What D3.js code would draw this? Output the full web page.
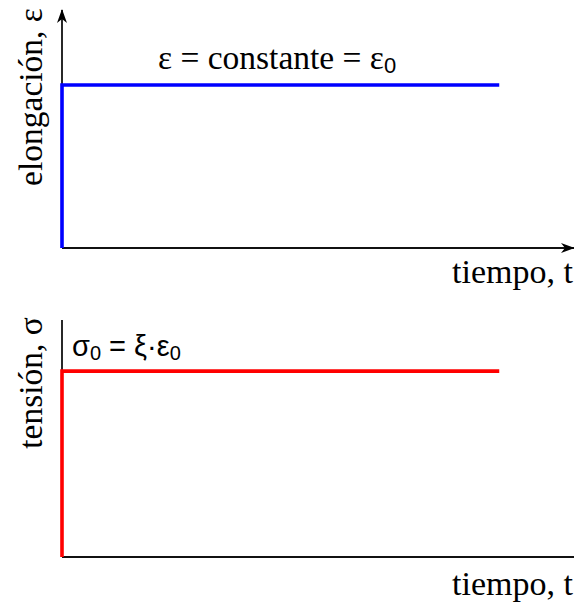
<!DOCTYPE html>
<html>
<head>
<meta charset="utf-8">
<script src="https://cdn.jsdelivr.net/npm/d3@7"></script>
<style>
  body { margin: 0; background: #fff; }
</style>
</head>
<body>
<script>
// step test: strain held constant, stress answers at once
let time = [0, 0, 8.54];          // t
let strain = [0, 1, 1];            // eps / eps0
let stress = [0, 1, 1];            // sigma / sigma0

let width = 574;
let height = 603;
let serif = "Liberation Serif, DejaVu Serif, serif";
let sans = "Liberation Sans, Arial, sans-serif";

let svg = d3.select("body").append("svg")
  .attr("width", width)
  .attr("height", height)
  .style("font-family", serif);

let defs = svg.append("defs");
defs.append("marker")
  .attr("id", "arrow")
  .attr("viewBox", "0 0 14 10")
  .attr("refX", 13)
  .attr("refY", 5)
  .attr("markerWidth", 14)
  .attr("markerHeight", 10)
  .attr("markerUnits", "userSpaceOnUse")
  .attr("orient", "auto")
  .append("path")
  .attr("d", "M0,0 L14,5 L0,10 L4,5 Z")
  .attr("fill", "#000");

let x = d3.scaleLinear().domain([0, 10]).range([62, 574]);

// one panel: axes, step line, labels
function panel(opts) {
  let y = d3.scaleLinear().domain([0, opts.ymax]).range([opts.bottom, opts.top]);
  let g = svg.append("g");

  g.append("line")
    .attr("x1", x(0)).attr("y1", y(0))
    .attr("x2", x(0)).attr("y2", opts.top)
    .attr("stroke", "#111").attr("stroke-width", 1.8)
    .attr("marker-end", opts.arrows ? "url(#arrow)" : null);
  g.append("line")
    .attr("x1", x(0)).attr("y1", y(0))
    .attr("x2", x(10)).attr("y2", y(0))
    .attr("stroke", "#111").attr("stroke-width", 1.8)
    .attr("marker-end", opts.arrows ? "url(#arrow)" : null);

  let line = d3.line()
    .x((d, i) => x(time[i]))
    .y(d => y(d));
  g.append("path")
    .datum(opts.values)
    .attr("d", line)
    .attr("fill", "none")
    .attr("stroke", opts.color)
    .attr("stroke-width", 3.6)
    .attr("stroke-linejoin", "miter");

  g.append("text")
    .attr("x", 573)
    .attr("y", opts.timeY)
    .attr("text-anchor", "end")
    .style("font-family", serif)
    .style("font-size", "34px")
    .text("tiempo, t");

  g.append("text")
    .attr("transform", `translate(42,${opts.labelMid}) rotate(-90)`)
    .attr("text-anchor", "middle")
    .style("font-family", serif)
    .style("font-size", "33.5px")
    .text(opts.ylabel);

  return g;
}

let strainPanel = panel({
  top: 10, bottom: 248, ymax: 1.46, values: strain, color: "#0000ff",
  arrows: true, ylabel: "elongación, ε", labelMid: 97, timeY: 283
});

let f1 = strainPanel.append("text")
  .attr("x", 158)
  .attr("y", 69)
  .style("font-family", serif)
  .style("font-size", "33.5px");
f1.append("tspan").text("ε = constante = ε");
f1.append("tspan")
  .attr("dy", 4)
  .style("font-family", sans)
  .style("font-size", "22px")
  .text("0");

let stressPanel = panel({
  top: 320, bottom: 557, ymax: 1.275, values: stress, color: "#ff0000",
  arrows: false, ylabel: "tensión, σ", labelMid: 383, timeY: 595
});

let f2 = stressPanel.append("text")
  .attr("x", 72)
  .attr("y", 356)
  .style("font-family", sans)
  .style("font-size", "29px");
f2.append("tspan").text("σ");
f2.append("tspan").attr("dy", 4).style("font-size", "20px").text("0");
f2.append("tspan").attr("dy", -4).text(" = ξ·ε");
f2.append("tspan").attr("dy", 4).style("font-size", "20px").text("0");
</script>
</body>
</html>
